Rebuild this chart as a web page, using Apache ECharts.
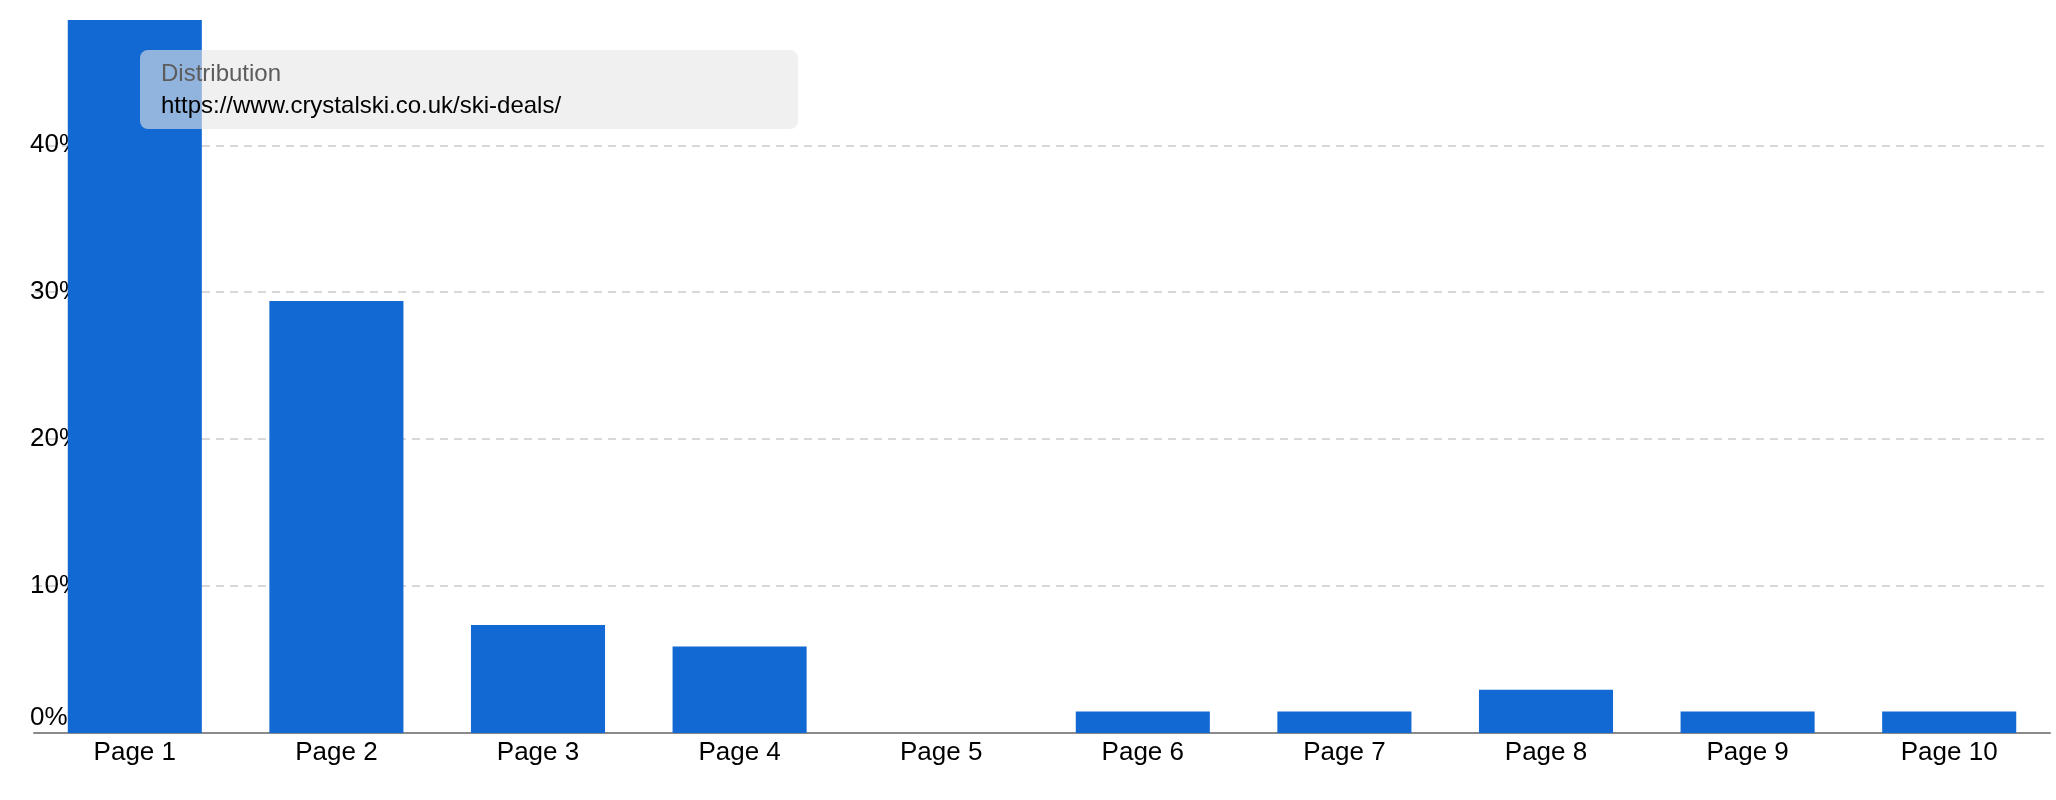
<!DOCTYPE html>
<html>
<head>
<meta charset="utf-8">
<script src="https://cdn.jsdelivr.net/npm/echarts@6/dist/echarts.min.js"></script>
<style>
  html, body { margin: 0; padding: 0; background: #fff; }
  #chart { width: 2056px; height: 800px; }
</style>
</head>
<body>
<div id="chart"></div>
<script>
"use strict";

// 分页分布 (%), 读自原图
const pages = ["Page 1", "Page 2", "Page 3", "Page 4", "Page 5",
  "Page 6", "Page 7", "Page 8", "Page 9", "Page 10"];
const shares = [48.53, 29.41, 7.35, 5.88, 0, 1.47, 1.47, 2.94, 1.47, 1.47];
const seriesName = "Distribution";
const pageUrl = "https://www.crystalski.co.uk/ski-deals/";

const FONT = 'Arial, "Liberation Sans", sans-serif';

const chart = echarts.init(document.getElementById("chart"));
chart.setOption({
  animation: false,
  textStyle: { fontFamily: FONT },
  grid: { left: 34, right: 6, top: 20, bottom: 67 },
  xAxis: {
    type: "category",
    data: pages,
    axisLine: { lineStyle: { color: "#8a8a8a", width: 2 } },
    axisTick: { show: false },
    axisLabel: { color: "#000", fontSize: 26, fontFamily: FONT, margin: 7 },
  },
  yAxis: {
    type: "value",
    min: 0,
    max: "dataMax",
    interval: 10,
    axisLine: { show: false },
    axisTick: { show: false },
    splitLine: {
      showMaxLine: false,
      lineStyle: { color: "#d8d8d8", type: [8, 6], width: 2 },
    },
    axisLabel: {
      showMaxLabel: false,
      align: "left",
      margin: 4,
      color: "#000",
      fontSize: 26,
      fontFamily: FONT,
      formatter: v => v === 0 ? "{z|0%}" : v + "%",
      rich: { z: { color: "#000", fontSize: 26, fontFamily: FONT, padding: [0, 0, 30, 0] } },
    },
  },
  series: [{
    name: seriesName,
    type: "bar",
    data: shares,
    barWidth: "66.5%",
    itemStyle: { color: "#1269d3" },
  }],
  // 悬停提示框 (静态)
  graphic: [
    {
      type: "rect", left: 140, top: 50, z: 100,
      shape: { width: 658, height: 79, r: 8 },
      style: { fill: "rgba(230,230,230,0.6)" },
    },
    {
      type: "text", left: 161, top: 62, z: 101,
      style: { text: seriesName, fill: "#5c5c5c", font: "24px " + FONT },
    },
    {
      type: "text", left: 161, top: 94, z: 101,
      style: { text: pageUrl, fill: "#000", font: "24px " + FONT },
    },
  ],
});
</script>
</body>
</html>
